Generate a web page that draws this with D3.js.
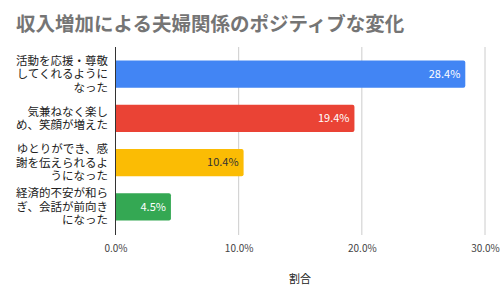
<!DOCTYPE html>
<html>
<head>
<meta charset="utf-8">
<script src="https://cdn.jsdelivr.net/npm/d3@7"></script>
<style>
  body { margin: 0; background: #fff; }
  text { font-family: "Noto Sans CJK JP", Roboto, sans-serif; }
</style>
</head>
<body>
<div id="chart"></div>
<script>
// データ
const categories = [
    ['活動を応援・尊敬', 'してくれるように', 'なった'],
    ['気兼ねなく楽し', 'め、笑顔が増えた'],
    ['ゆとりができ、感', '謝を伝えられるよ', 'うになった'],
    ['経済的不安が和ら', 'ぎ、会話が前向き', 'になった']
]
const values = [28.4, 19.4, 10.4, 4.5]
const colors = ['#4285F4', '#EA4335', '#FBBC04', '#34A853']
const labelColors = ['#ffffff', '#ffffff', '#333333', '#ffffff']
const xTicks = [0, 10, 20, 30]

const width = 500, height = 300

const svg = d3.select('#chart').append('svg')
    .attr('width', width)
    .attr('height', height)

// タイトル
svg.append('text')
    .attr('x', 16)
    .attr('y', 31)
    .attr('font-size', 19.5)
    .attr('font-weight', 'bold')
    .attr('fill', '#757575')
    .text('収入増加による夫婦関係のポジティブな変化')

const x = d3.scaleLinear()
    .domain([0, 30])
    .range([115.5, 485])

const y = d3.scaleBand()
    .domain(d3.range(values.length))
    .range([52, 229])
    .paddingInner(0.38)
    .paddingOuter(0.19)

// グリッド線
svg.append('g')
    .selectAll('line')
    .data(xTicks.slice(1))
    .join('line')
    .attr('x1', d => x(d))
    .attr('x2', d => x(d))
    .attr('y1', 47)
    .attr('y2', 235)
    .attr('stroke', '#cccccc')
    .attr('stroke-width', 1)

// 軸ラベル
const axis = svg.append('g')
    .attr('transform', 'translate(0,235)')
    .call(d3.axisBottom(x).tickValues(xTicks).tickSize(0).tickFormat(d => d.toFixed(1) + '%'))
axis.select('.domain').remove()
axis.selectAll('text')
    .attr('dy', 0)
    .attr('y', 17)
    .attr('font-size', 10)
    .attr('font-family', '"Liberation Sans", Arial, sans-serif')
    .attr('fill', '#444')

// バー（右端のみ角丸）
const r = 2
svg.append('g')
    .selectAll('path')
    .data(values)
    .join('path')
    .attr('fill', (d, i) => colors[i])
    .attr('d', (d, i) => {
        const x0 = x(0), x1 = x(d), y0 = y(i), h = y.bandwidth()
        return `M${x0},${y0}H${x1 - r}Q${x1},${y0} ${x1},${y0 + r}V${y0 + h - r}Q${x1},${y0 + h} ${x1 - r},${y0 + h}H${x0}Z`
    })

// 値ラベル
svg.append('g')
    .selectAll('text')
    .data(values)
    .join('text')
    .attr('x', d => x(d) - 5)
    .attr('y', (d, i) => y(i) + y.bandwidth() / 2)
    .attr('dy', '0.35em')
    .attr('text-anchor', 'end')
    .attr('font-size', 11)
    .attr('font-family', 'Roboto, sans-serif')
    .attr('fill', (d, i) => labelColors[i])
    .text(d => d.toFixed(1) + '%')

// ゼロ線
svg.append('line')
    .attr('x1', x(0))
    .attr('x2', x(0))
    .attr('y1', 47)
    .attr('y2', 235)
    .attr('stroke', '#333')
    .attr('stroke-width', 1)

// カテゴリラベル（1行ずつ別のtextにする）
const lineH = 13.5
categories.forEach((lines, i) => {
    const top = y(i) + y.bandwidth() / 2 - (lines.length - 1) * lineH / 2
    svg.append('g')
        .selectAll('text')
        .data(lines)
        .join('text')
        .attr('x', 108)
        .attr('y', (d, j) => top + j * lineH)
        .attr('dy', '0.35em')
        .attr('text-anchor', 'end')
        .attr('font-size', 11.5)
        .attr('fill', '#222')
        .text(d => d)
})

// 軸タイトル
svg.append('text')
    .attr('x', 300)
    .attr('y', 283)
    .attr('text-anchor', 'middle')
    .attr('font-size', 11)
    .attr('fill', '#222')
    .text('割合')
</script>
</body>
</html>
